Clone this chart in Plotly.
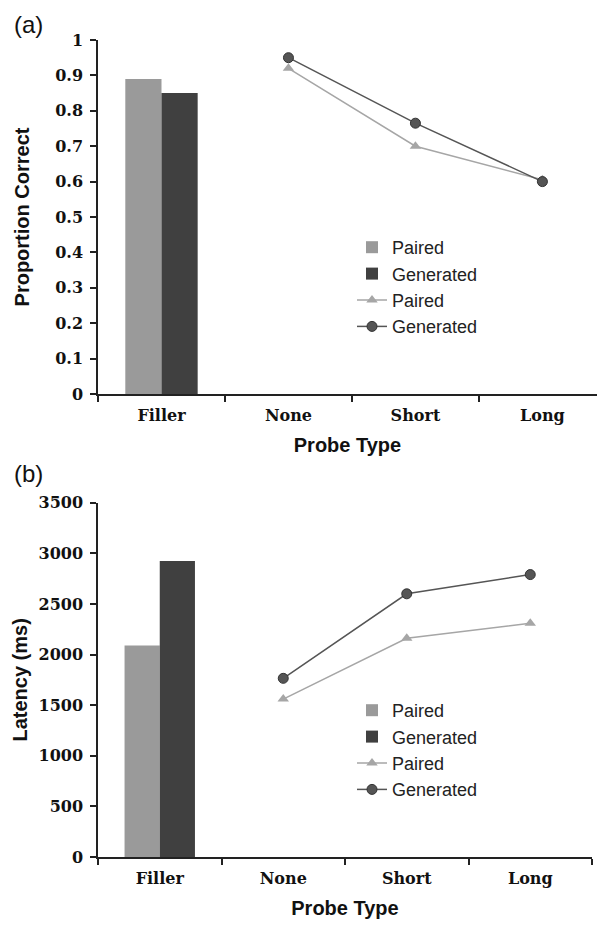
import plotly.graph_objects as go

categories = ["Filler", "None", "Short", "Long"]
bar_cats = ["Filler"]
line_cats = ["None", "Short", "Long"]

acc_bar_paired = [0.89]
acc_bar_generated = [0.85]
acc_line_paired = [0.92, 0.70, 0.605]
acc_line_generated = [0.95, 0.765, 0.60]

lat_bar_paired = [2090]
lat_bar_generated = [2925]
lat_line_paired = [1560, 2160, 2310]
lat_line_generated = [1765, 2600, 2790]

y_ticks_a = [0, 0.1, 0.2, 0.3, 0.4, 0.5, 0.6, 0.7, 0.8, 0.9, 1]
y_ticks_b = [0, 500, 1000, 1500, 2000, 2500, 3000, 3500]

C_PAIRED_BAR = "#9a9a9a"
C_GEN_BAR = "#404040"
C_PAIRED_LINE = "#a6a6a6"
C_GEN_LINE = "#555555"

W, H = 597, 925
ML, MT, MB = 98, 40, 68
PH = H - MT - MB
PW = W - ML

def yfrac(px):
    return (H - MB - px) / PH

def xfrac(px):
    return (px - ML) / PW

fig = go.Figure()

def add_panel(xa, ya, leg, bp, bg, lp, lg):
    fig.add_trace(go.Bar(x=bar_cats, y=bp, name="Paired", marker_color=C_PAIRED_BAR,
                         marker_line_width=0, xaxis=xa, yaxis=ya, legend=leg,
                         legendgroup=leg + "1", offsetgroup="p"))
    fig.add_trace(go.Bar(x=bar_cats, y=bg, name="Generated", marker_color=C_GEN_BAR,
                         marker_line_width=0, xaxis=xa, yaxis=ya, legend=leg,
                         legendgroup=leg + "2", offsetgroup="g"))
    fig.add_trace(go.Scatter(x=line_cats, y=lp, name="Paired", mode="lines+markers",
                             line=dict(color=C_PAIRED_LINE, width=1.5),
                             marker=dict(symbol="triangle-up", size=10, color=C_PAIRED_LINE),
                             xaxis=xa, yaxis=ya, legend=leg, legendgroup=leg + "3"))
    fig.add_trace(go.Scatter(x=line_cats, y=lg, name="Generated", mode="lines+markers",
                             line=dict(color=C_GEN_LINE, width=1.5),
                             marker=dict(symbol="circle", size=10, color=C_GEN_LINE,
                                         line=dict(color="#333333", width=1)),
                             xaxis=xa, yaxis=ya, legend=leg, legendgroup=leg + "4"))

add_panel("x", "y", "legend", acc_bar_paired, acc_bar_generated, acc_line_paired, acc_line_generated)
add_panel("x2", "y2", "legend2", lat_bar_paired, lat_bar_generated, lat_line_paired, lat_line_generated)

tickfont = dict(family="DejaVu Serif", size=16, color="#111111", weight="bold")
titlefont = dict(family="Liberation Sans, Arial", size=20, color="#111111", weight="bold")

xcommon = dict(type="category", categoryorder="array", categoryarray=categories,
               showline=True, linecolor="#222222", linewidth=1.5, ticks="outside",
               tickson="boundaries", ticklen=6, tickcolor="#222222", tickwidth=1.5,
               showgrid=False, zeroline=False, tickfont=tickfont, ticklabelstandoff=6,
               title=dict(text="Probe Type", font=titlefont, standoff=14))
ycommon = dict(showline=True, linecolor="#222222", linewidth=1.5, ticks="outside",
               ticklen=6, tickcolor="#222222", tickwidth=1.5, showgrid=False,
               zeroline=False, tickfont=tickfont, ticklabelstandoff=4)

a_top, a_bot = 40, 394
b_top, b_bot = 502.7, 857

legfont = dict(family="Liberation Sans, Arial", size=18, color="#222222")

fig.update_layout(
    width=W, height=H,
    margin=dict(l=ML, r=0, t=MT, b=MB),
    paper_bgcolor="white", plot_bgcolor="white",
    barmode="group", bargap=0.43, bargroupgap=0,
    xaxis=dict(domain=[0, 1], range=[-0.5, 3.43], anchor="y", **xcommon),
    yaxis=dict(domain=[yfrac(a_bot), yfrac(a_top)], range=[0, 1], tickvals=y_ticks_a,
               anchor="x", title=dict(text="Proportion Correct", font=titlefont, standoff=20),
               **ycommon),
    xaxis2=dict(domain=[0, xfrac(592)], range=[-0.5, 3.5], anchor="y2", **xcommon),
    yaxis2=dict(domain=[yfrac(b_bot), yfrac(b_top)], range=[0, 3500], tickvals=y_ticks_b,
                anchor="x2", title=dict(text="Latency (ms)", font=titlefont, standoff=6),
                **ycommon),
    legend=dict(x=xfrac(352), y=yfrac(229), xanchor="left", yanchor="top",
                font=legfont, bgcolor="rgba(0,0,0,0)", traceorder="normal", tracegroupgap=0),
    legend2=dict(x=xfrac(352), y=yfrac(692), xanchor="left", yanchor="top",
                 font=legfont, bgcolor="rgba(0,0,0,0)", traceorder="normal", tracegroupgap=0),
    annotations=[
        dict(text="(a)", x=xfrac(12), y=yfrac(25), xref="paper", yref="paper",
             xanchor="left", yanchor="middle", showarrow=False,
             font=dict(family="Liberation Sans, Arial", size=24, color="#111111")),
        dict(text="(b)", x=xfrac(12), y=yfrac(473), xref="paper", yref="paper",
             xanchor="left", yanchor="middle", showarrow=False,
             font=dict(family="Liberation Sans, Arial", size=24, color="#111111")),
    ],
)

fig.write_html("out.html")
